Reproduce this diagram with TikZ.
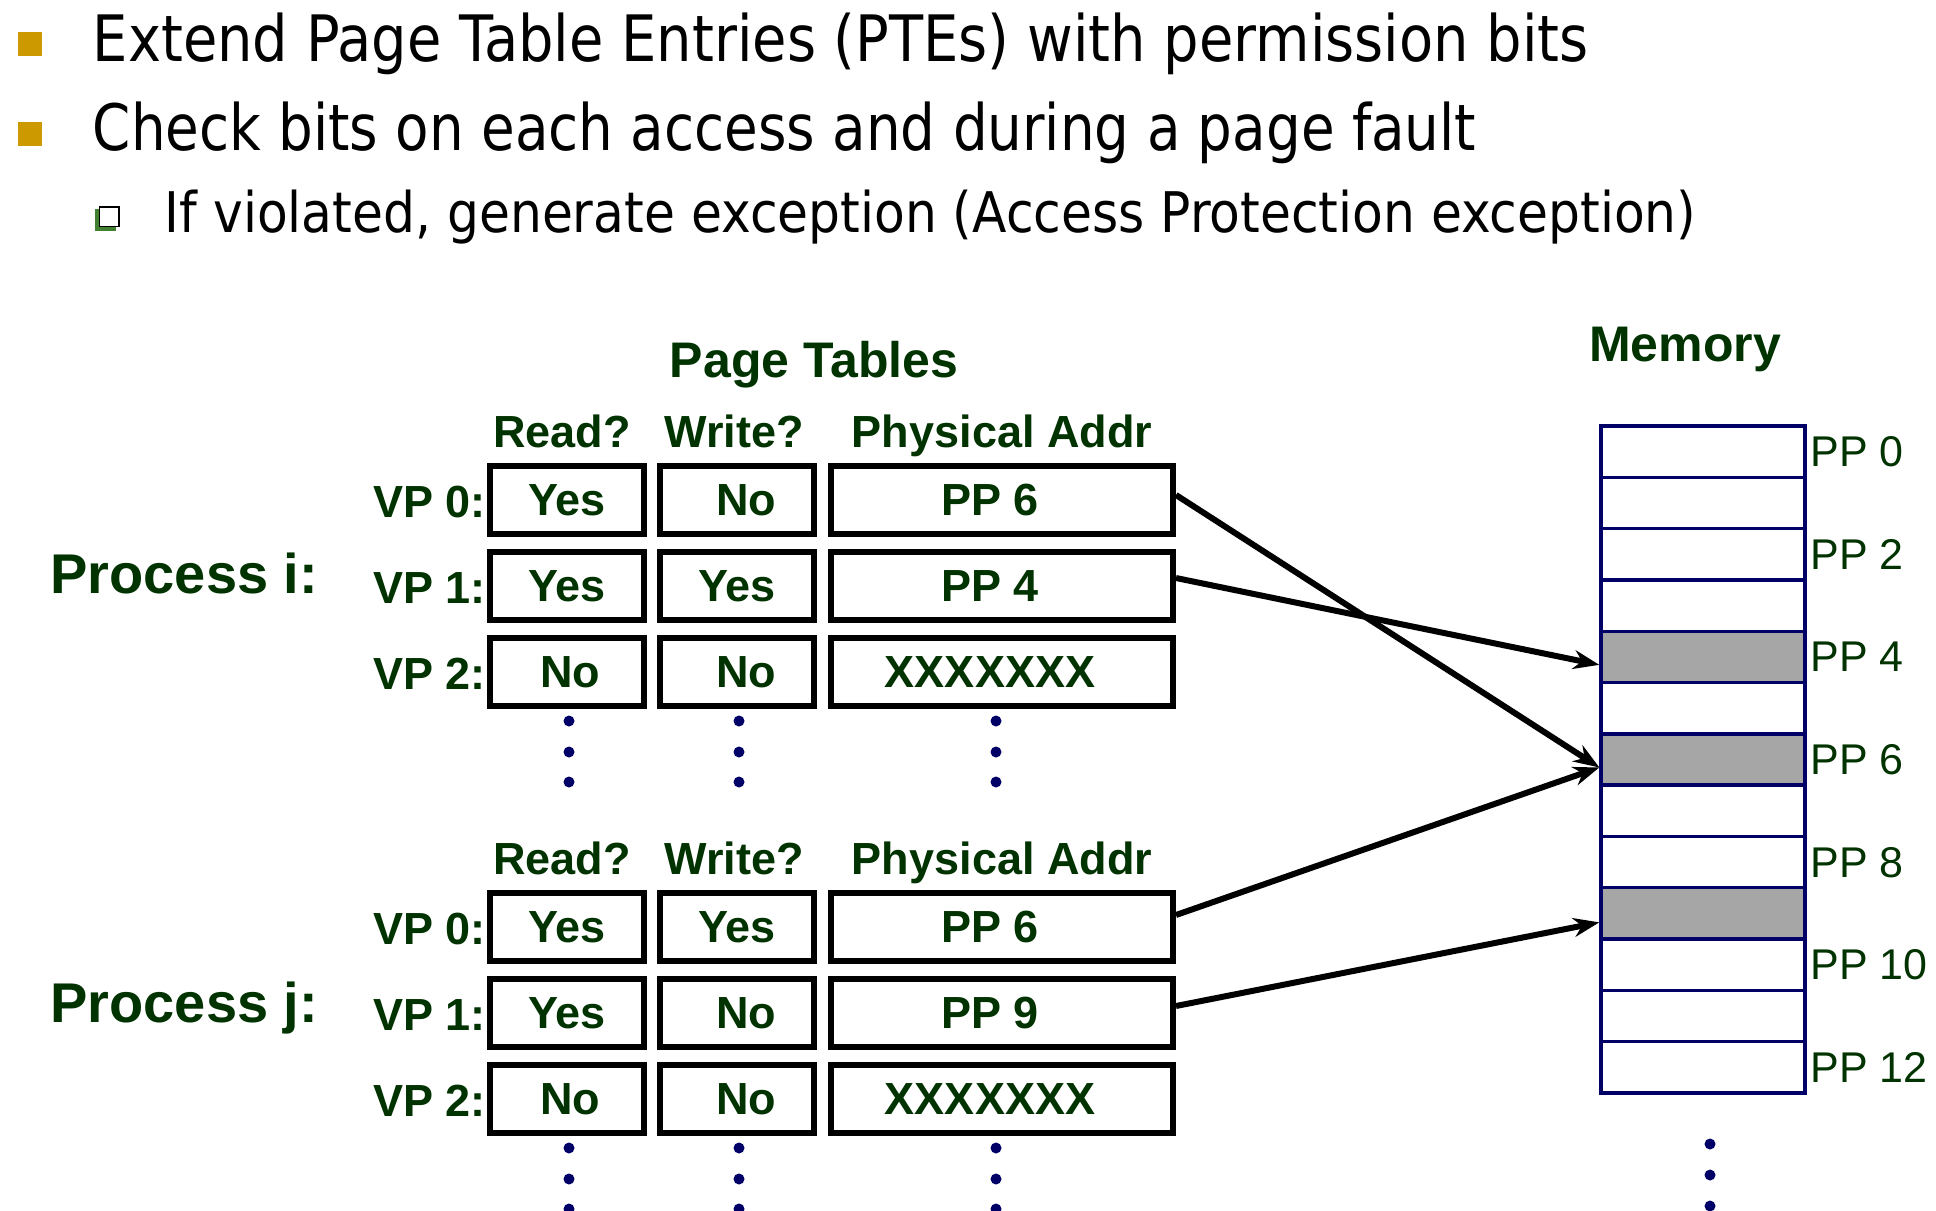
\documentclass[tikz,border=0pt]{standalone}
\usepackage{fontspec}
\usepackage{tikz}
\usetikzlibrary{arrows.meta}
\newfontfamily\pointfont{DejaVu Sans}[FakeStretch=0.873]
\newfontfamily\checkfont{DejaVu Sans}[FakeStretch=0.855]
\newfontfamily\subfont{DejaVu Sans}[FakeStretch=0.898]
\newfontfamily\arialfont{Liberation Sans}
\definecolor{ptgreen}{RGB}{0,51,0}
\definecolor{bulletgold}{RGB}{204,153,0}
\definecolor{memnavy}{RGB}{0,0,102}
\definecolor{usedgrey}{RGB}{166,166,166}
\definecolor{shadowgreen}{RGB}{64,128,48}

\begin{document}
\begin{tikzpicture}[x=0.5pt, y=-0.5pt,
        bullettext/.style={anchor=base west, inner sep=0pt},
        title/.style={anchor=base, inner sep=0pt, text=ptgreen, font=\arialfont\bfseries\fontsize{25}{30}\selectfont},
        proc/.style={anchor=base west, inner sep=0pt, text=ptgreen, font=\arialfont\bfseries\fontsize{28}{34}\selectfont},
        colhead/.style={anchor=base, inner sep=0pt, text=ptgreen, font=\arialfont\bfseries\fontsize{22.5}{27}\selectfont},
        vplabel/.style={anchor=base east, inner sep=0pt, text=ptgreen, font=\arialfont\bfseries\fontsize{22.5}{27}\selectfont},
        cell/.style={draw=black, line width=3pt, minimum height=34pt, text depth=0pt, inner sep=0pt, text=ptgreen, font=\arialfont\bfseries\fontsize{22.5}{27}\selectfont},
        bitcell/.style={cell, minimum width=77pt},
        addrcell/.style={cell, minimum width=171pt, execute at end node={\hspace*{12pt}}},
        memcell/.style={draw=memnavy, line width=1.7pt, minimum width=102pt, minimum height=25.65pt, inner sep=0pt},
        pplabel/.style={anchor=base west, inner sep=0pt, text=ptgreen, font=\arialfont\fontsize{21.5}{26}\selectfont},
        map/.style={line width=3pt, -{Stealth[length=13pt, width=9.5pt]}},
        dots/.style={fill=memnavy}
    ]
        \fill[white] (0,0) rectangle (1936,1210);
        \useasboundingbox (0,0) rectangle (1936,1210);

        % bullet points
        \fill[bulletgold] (18,32) rectangle (42,56);
        \fill[bulletgold] (18,122) rectangle (42,146);
        \fill[shadowgreen] (95,209) rectangle (116,231);
        \draw[black, line width=0.6pt, fill=white] (99.5,207) rectangle (119,226.5);
        \node[bullettext, font=\pointfont\fontsize{32}{38}\selectfont] (line1) at (92.5,61) {Extend Page Table Entries (PTEs) with permission bits};
        \node[bullettext, font=\checkfont\fontsize{32}{38}\selectfont] (line2) at (92.5,150) {Check bits on each access and during a page fault};
        \node[bullettext, font=\subfont\fontsize{28}{34}\selectfont] (line3) at (164.5,232) {If violated, generate exception (Access Protection exception)};

        % titles
        \node[title] (ptitle) at (814,377) {Page Tables};
        \node[title] (mtitle) at (1685,361) {Memory};
        \node[proc] (proci) at (50,593) {Process i:};
        \node[proc] (procj) at (50,1022) {Process j:};

        % page table of process i
        \node[colhead] (hri) at (562,447) {Read?};
        \node[colhead] (hwi) at (734,447) {Write?};
        \node[colhead] (hpi) at (1002,447) {Physical Addr};
        \node[vplabel] (vi0) at (486,517) {VP 0:};
        \node[vplabel] (vi1) at (486,603) {VP 1:};
        \node[vplabel] (vi2) at (486,689) {VP 2:};
        \node[bitcell] (ri0) at (567,500) {Yes};
        \node[bitcell] (wi0) at (737,500) {\hspace*{9pt}No};
        \node[addrcell] (pi0) at (1002,500) {PP 6};
        \node[bitcell] (ri1) at (567,586) {Yes};
        \node[bitcell] (wi1) at (737,586) {Yes};
        \node[addrcell] (pi1) at (1002,586) {PP 4};
        \node[bitcell] (ri2) at (567,672) {\hspace*{3pt}No};
        \node[bitcell] (wi2) at (737,672) {\hspace*{9pt}No};
        \node[addrcell] (pi2) at (1002,672) {XXXXXXX};

        % page table of process j
        \node[colhead] (hrj) at (562,874) {Read?};
        \node[colhead] (hwj) at (734,874) {Write?};
        \node[colhead] (hpj) at (1002,874) {Physical Addr};
        \node[vplabel] (vj0) at (486,944) {VP 0:};
        \node[vplabel] (vj1) at (486,1030) {VP 1:};
        \node[vplabel] (vj2) at (486,1116) {VP 2:};
        \node[bitcell] (rj0) at (567,927) {Yes};
        \node[bitcell] (wj0) at (737,927) {Yes};
        \node[addrcell] (pj0) at (1002,927) {PP 6};
        \node[bitcell] (rj1) at (567,1013) {Yes};
        \node[bitcell] (wj1) at (737,1013) {\hspace*{9pt}No};
        \node[addrcell] (pj1) at (1002,1013) {PP 9};
        \node[bitcell] (rj2) at (567,1099) {\hspace*{3pt}No};
        \node[bitcell] (wj2) at (737,1099) {\hspace*{9pt}No};
        \node[addrcell] (pj2) at (1002,1099) {XXXXXXX};

        % more entries
        \foreach \x in {569,739,996}
            \foreach \y in {721,752,782,1148,1179,1209}
                \fill[dots] (\x,\y) circle (2.75pt);

        % physical memory
        \foreach \k/\c in {0/white,1/white,2/white,3/white,4/usedgrey,5/white,6/usedgrey,
                           7/white,8/white,9/usedgrey,10/white,11/white,12/white}
            \node[memcell, fill=\c] (m\k) at (1703,{451.65+51.3*\k}) {};
        \foreach \k in {0,2,...,12}
            \node[pplabel] (pp\k) at (1810,{466.65+51.3*\k}) {PP \k};
        \foreach \y in {1144,1175,1206}
            \fill[dots] (1710,\y) circle (2.75pt);

        % mappings
        \draw[map] ([yshift=2.5pt]pi0.east) -- ([yshift=-4pt]m6.west);
        \draw[map] ([yshift=4pt]pi1.east) -- ([yshift=-4pt]m4.west);
        \draw[map] ([yshift=6pt]pj0.east) -- ([yshift=-4pt]m6.west);
        \draw[map] ([yshift=3.5pt]pj1.east) -- ([yshift=-4.5pt]m9.west);
\end{tikzpicture}
\end{document}
